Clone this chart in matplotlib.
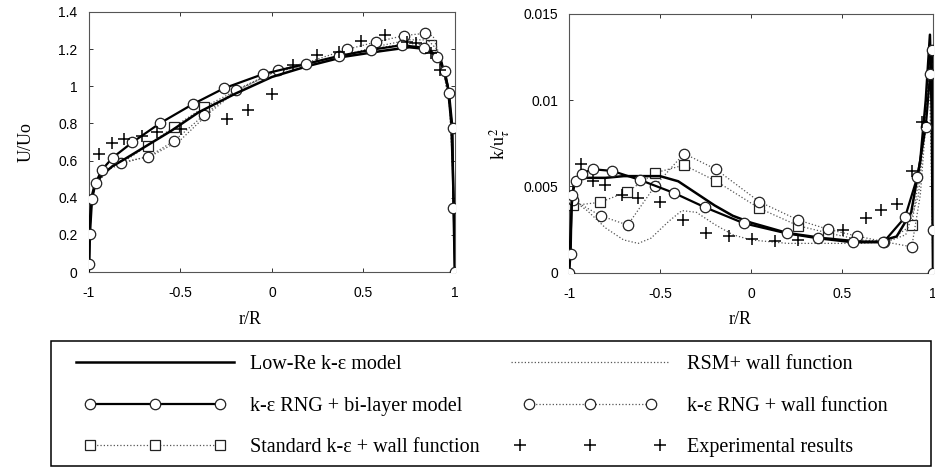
import numpy as np
import matplotlib
matplotlib.use("Agg")
import matplotlib.pyplot as plt
from matplotlib.patches import Rectangle
from matplotlib.legend_handler import HandlerLine2D

plt.rcParams['font.family'] = ['Liberation Serif', 'DejaVu Serif']
plt.rcParams['mathtext.fontset'] = 'stix'

# ---- left panel: U/Uo vs r/R ----
u_lowre_x = [-1.0, -0.995, -0.985, -0.97, -0.93, -0.87, -0.8, -0.7, -0.55, -0.4, -0.2, 0.0, 0.2, 0.4, 0.6, 0.75, 0.85, 0.92, 0.96, 0.98, 0.995, 1.0]
u_lowre_y = [0.0, 0.25, 0.40, 0.46, 0.52, 0.57, 0.61, 0.67, 0.76, 0.86, 0.96, 1.05, 1.11, 1.16, 1.19, 1.21, 1.20, 1.15, 1.00, 0.80, 0.30, 0.0]

u_bilayer_x = [-0.997, -0.993, -0.982, -0.962, -0.929, -0.869, -0.762, -0.611, -0.433, -0.262, -0.047, 0.185, 0.364, 0.540, 0.708, 0.831, 0.899, 0.944, 0.967, 0.986, 0.991, 0.998]
u_bilayer_y = [0.043, 0.203, 0.391, 0.481, 0.549, 0.616, 0.698, 0.801, 0.903, 0.989, 1.066, 1.120, 1.163, 1.196, 1.221, 1.208, 1.160, 1.084, 0.966, 0.777, 0.343, 0.002]

u_std_x = [-0.97, -0.93, -0.87, -0.80, -0.678, -0.535, -0.371, -0.2, 0.0, 0.2, 0.4, 0.6, 0.75, 0.87, 0.93, 0.97, 0.99, 1.0]
u_std_y = [0.45, 0.52, 0.57, 0.60, 0.680, 0.782, 0.887, 0.975, 1.07, 1.12, 1.17, 1.21, 1.23, 1.22, 1.12, 0.90, 0.50, 0.0]
u_std_mark = [4, 5, 6, 13]

u_rsm_x = [-0.97, -0.9, -0.8, -0.65, -0.5, -0.35, -0.2, 0.0, 0.2, 0.4, 0.6, 0.75, 0.85, 0.9, 0.95, 0.98, 1.0]
u_rsm_y = [0.45, 0.55, 0.59, 0.63, 0.71, 0.85, 0.97, 1.07, 1.12, 1.17, 1.22, 1.25, 1.25, 1.20, 1.05, 0.80, 0.0]

u_rngwf_x = [-0.97, -0.9, -0.825, -0.675, -0.535, -0.371, -0.196, 0.034, 0.2, 0.411, 0.571, 0.722, 0.835, 0.88, 0.93, 0.97, 0.99, 1.0]
u_rngwf_y = [0.45, 0.55, 0.589, 0.621, 0.705, 0.845, 0.980, 1.088, 1.13, 1.199, 1.239, 1.273, 1.285, 1.27, 1.12, 0.90, 0.50, 0.0]
u_rngwf_mark = [2, 3, 4, 5, 6, 7, 9, 10, 11, 12]

u_exp_x = [-0.942, -0.875, -0.806, -0.708, -0.629, -0.498, -0.247, -0.129, -0.002, 0.116, 0.244, 0.367, 0.486, 0.617, 0.735, 0.789, 0.87, 0.917]
u_exp_y = [0.635, 0.696, 0.715, 0.732, 0.752, 0.770, 0.824, 0.872, 0.957, 1.115, 1.169, 1.186, 1.246, 1.276, 1.240, 1.232, 1.180, 1.088]

# ---- right panel: k/u_tau^2 vs r/R ----
k_lowre_x = [-1.0, -0.985, -0.97, -0.9, -0.8, -0.7, -0.6, -0.5, -0.4, -0.3, -0.2, -0.1, 0.0, 0.2, 0.4, 0.6, 0.7, 0.8, 0.88, 0.93, 0.96, 0.983, 0.993, 1.0]
k_lowre_y = [0.0, 0.0040, 0.0055, 0.0055, 0.0055, 0.0056, 0.0056, 0.0056, 0.0053, 0.0046, 0.0039, 0.0033, 0.0029, 0.0023, 0.0020, 0.0018, 0.0018, 0.0021, 0.0035, 0.0065, 0.0100, 0.0138, 0.0090, 0.0]

k_bilayer_x = [-1.0, -0.991, -0.985, -0.963, -0.930, -0.870, -0.762, -0.608, -0.425, -0.253, -0.038, 0.196, 0.370, 0.559, 0.727, 0.846, 0.914, 0.960, 0.984, 0.993, 1.0, 1.0]
k_bilayer_y = [0.0, 0.00108, 0.0045, 0.00533, 0.00575, 0.0060, 0.0059, 0.00537, 0.00463, 0.00379, 0.00286, 0.00228, 0.00199, 0.00176, 0.00176, 0.00321, 0.00556, 0.00845, 0.0115, 0.0129, 0.0025, 0.0]

k_std_x = [-0.976, -0.830, -0.680, -0.527, -0.368, -0.192, 0.046, 0.260, 0.425, 0.6, 0.75, 0.883, 0.93, 0.97, 0.99, 1.0]
k_std_y = [0.0039, 0.00408, 0.00469, 0.00579, 0.00624, 0.00531, 0.00373, 0.00272, 0.0023, 0.0019, 0.0018, 0.00276, 0.0060, 0.0105, 0.0125, 0.0]
k_std_mark = [0, 1, 2, 3, 4, 5, 6, 7, 8, 11]

k_rsm_x = [-0.98, -0.9, -0.8, -0.7, -0.62, -0.55, -0.45, -0.38, -0.3, -0.2, -0.1, 0.0, 0.2, 0.4, 0.6, 0.75, 0.85, 0.92, 0.96, 0.98, 1.0]
k_rsm_y = [0.0042, 0.0036, 0.0026, 0.0019, 0.0017, 0.0020, 0.0030, 0.0036, 0.0035, 0.0028, 0.0022, 0.0019, 0.0017, 0.0017, 0.0017, 0.0018, 0.0022, 0.0045, 0.0090, 0.0120, 0.0]

k_rngwf_x = [-0.976, -0.826, -0.678, -0.527, -0.368, -0.192, 0.046, 0.260, 0.425, 0.584, 0.73, 0.883, 0.93, 0.97, 0.99, 1.0]
k_rngwf_y = [0.0042, 0.0033, 0.00276, 0.00504, 0.00691, 0.00599, 0.00411, 0.00305, 0.00251, 0.00212, 0.0018, 0.0015, 0.0045, 0.0100, 0.0128, 0.0]
k_rngwf_mark = [0, 1, 2, 3, 4, 5, 6, 7, 8, 9, 10, 11]

k_exp_x = [-0.936, -0.870, -0.802, -0.707, -0.619, -0.5, -0.375, -0.247, -0.119, 0.004, 0.132, 0.257, 0.507, 0.632, 0.712, 0.804, 0.883, 0.938]
k_exp_y = [0.00629, 0.00533, 0.00508, 0.0045, 0.00431, 0.00411, 0.00305, 0.00232, 0.00212, 0.00193, 0.00185, 0.00189, 0.00247, 0.00315, 0.00363, 0.00398, 0.0059, 0.00874]

labels = ['Low-Re k-\u03b5 model', 'k-\u03b5 RNG + bi-layer model', 'Standard k-\u03b5 + wall function',
          'RSM+ wall function', 'k-\u03b5 RNG + wall function', 'Experimental results']

dot_col = '#555555'
circ = dict(marker='o', ms=7.5, mfc='white', mec='#222222', mew=0.9)
sq = dict(marker='s', ms=6.5, mfc='white', mec='#222222', mew=0.9)


def draw(ax, d):
    h = []
    h.append(ax.plot(d[0][0], d[0][1], color='black', lw=1.8, zorder=4)[0])
    h.append(ax.plot(d[1][0], d[1][1], color='black', lw=1.6, zorder=4, **circ)[0])
    h.append(ax.plot(d[2][0], d[2][1], color=dot_col, lw=0.9, ls=':', markevery=d[2][2], zorder=3, **sq)[0])
    h.append(ax.plot(d[3][0], d[3][1], color=dot_col, lw=0.9, ls=':', zorder=3)[0])
    h.append(ax.plot(d[4][0], d[4][1], color=dot_col, lw=0.9, ls=':', markevery=d[4][2], zorder=3, **circ)[0])
    h.append(ax.plot(d[5][0], d[5][1], ls='none', marker='+', ms=9, mew=1.1, color='black', zorder=5)[0])
    ax.set_xlim(-1, 1)
    ax.set_xticks([-1, -0.5, 0, 0.5, 1])
    ax.set_xticklabels(['-1', '-0.5', '0', '0.5', '1'])
    ax.tick_params(direction='in', top=True, right=True, length=3, width=0.7, colors='#333333',
                   labelcolor='black', labelsize=10)
    ax.tick_params(axis='x', pad=10)
    ax.tick_params(axis='y', pad=8)
    for s in ax.spines.values():
        s.set_linewidth(0.8)
        s.set_color('#555555')
    ax.set_xlabel('r/R', fontsize=13)
    return h


fig = plt.figure(figsize=(9.35, 4.68), dpi=100)
ax1 = fig.add_axes([0.0949, 0.4188, 0.3918, 0.5556])
ax2 = fig.add_axes([0.6086, 0.4173, 0.3893, 0.5528])

h = draw(ax1, [(u_lowre_x, u_lowre_y), (u_bilayer_x, u_bilayer_y), (u_std_x, u_std_y, u_std_mark),
               (u_rsm_x, u_rsm_y), (u_rngwf_x, u_rngwf_y, u_rngwf_mark), (u_exp_x, u_exp_y)])
ax1.set_ylim(0, 1.4)
ax1.set_yticks([0, 0.2, 0.4, 0.6, 0.8, 1, 1.2, 1.4])
ax1.set_yticklabels(['0', '0.2', '0.4', '0.6', '0.8', '1', '1.2', '1.4'])
ax1.set_ylabel('U/Uo', fontsize=13, labelpad=17)
ax1.xaxis.set_label_coords(0.44, -0.15)

draw(ax2, [(k_lowre_x, k_lowre_y), (k_bilayer_x, k_bilayer_y), (k_std_x, k_std_y, k_std_mark),
           (k_rsm_x, k_rsm_y), (k_rngwf_x, k_rngwf_y, k_rngwf_mark), (k_exp_x, k_exp_y)])
ax2.set_ylim(0, 0.015)
ax2.set_yticks([0, 0.005, 0.01, 0.015])
ax2.set_yticklabels(['0', '0.005', '0.01', '0.015'])
ax2.set_ylabel(r'k/u$_\tau^{\,2}$', fontsize=13, labelpad=8)
ax2.xaxis.set_label_coords(0.47, -0.148)

for a in (ax1, ax2):
    for lab in a.get_xticklabels() + a.get_yticklabels():
        lab.set_family('Liberation Sans')

# legend: frame drawn separately, two single-column legends placed inside it
box = (51 / 935, 1 - 466 / 468, 880 / 935, 125 / 468)
fig.patches.append(Rectangle(box[:2], box[2], box[3], transform=fig.transFigure,
                             fill=False, edgecolor='black', lw=1.1))
hmap = {h[1]: HandlerLine2D(marker_pad=1.0), h[2]: HandlerLine2D(marker_pad=1.0),
        h[4]: HandlerLine2D(marker_pad=1.2), h[5]: HandlerLine2D(marker_pad=0.75)}
leg_kw = dict(numpoints=3, handlelength=8.45, fontsize=14.5, labelspacing=1.12,
              loc='upper left', borderpad=0, borderaxespad=0, frameon=False, handler_map=hmap)
leg1 = fig.legend(h[:3], labels[:3], bbox_to_anchor=(70 / 935, 1 - 355 / 468),
                  handletextpad=0.5, **leg_kw)
leg2 = fig.legend(h[3:], labels[3:], bbox_to_anchor=(505 / 935, 1 - 355 / 468),
                  handletextpad=0.6, **leg_kw)

fig.savefig('out.png', dpi=100)
